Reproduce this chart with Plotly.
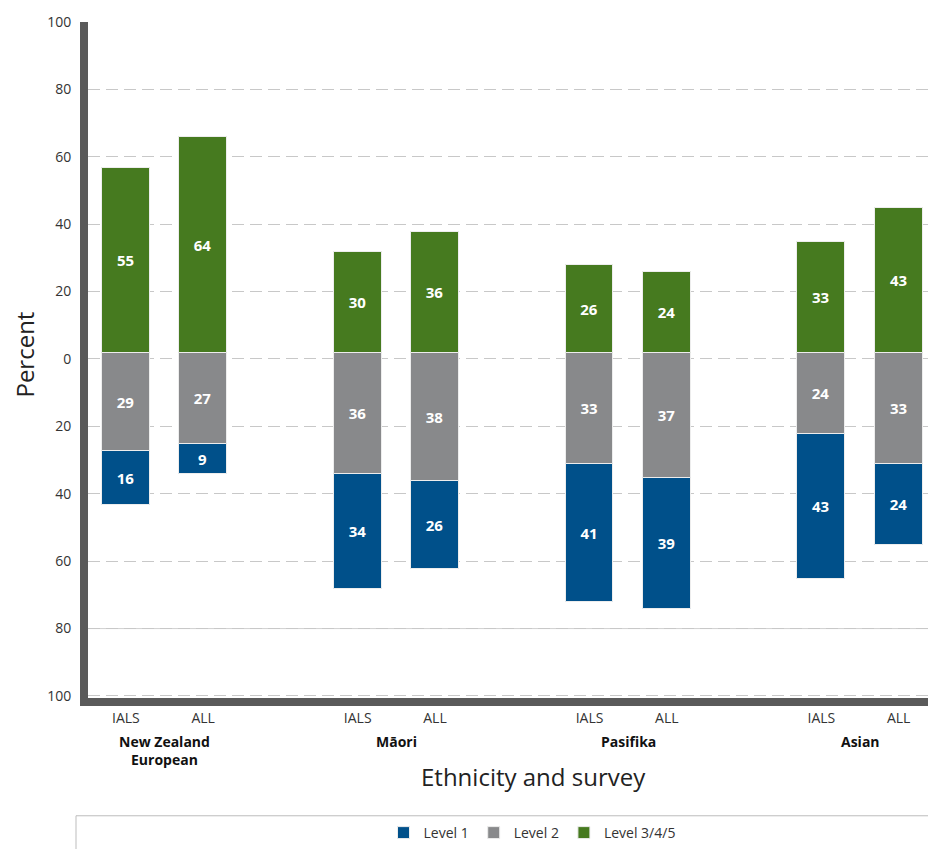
import plotly.graph_objects as go

# ---- data ----
groups = ["New Zealand<br>European", "Māori", "Pasifika", "Asian"]
surveys = ["IALS", "ALL"]
bar_labels = ["IALS", "ALL", "IALS", "ALL", "IALS", "ALL", "IALS", "ALL"]
level1 = [16, 9, 34, 26, 41, 39, 43, 24]
level2 = [29, 27, 36, 38, 33, 37, 24, 33]
level345 = [55, 64, 30, 36, 26, 24, 33, 43]
ytick_vals = [-100, -80, -60, -40, -20, 0, 20, 40, 60, 80, 100]
ytick_text = ["100", "80", "60", "40", "20", "0", "20", "40", "60", "80", "100"]

# ---- style ----
C_L1 = "#00508A"
C_L2 = "#88898B"
C_L3 = "#467A1F"
FONT = "Open Sans"
baseline = 1.8  # visual baseline of the bars in the original

# x positions: pairs per group with a gap between groups
xpos = []
for g in range(len(groups)):
    for s in range(len(surveys)):
        xpos.append(g * 3 + s)
group_centers = [g * 3 + 0.5 for g in range(len(groups))]

W, H = 928, 849
H_EFF = 844  # observed effective drawing height
L, R, T, B = 88, 0, 22, 139
pw, ph = W - L - R, H_EFF - T - B
PLOT_BOTTOM = H_EFF - B


def px_x(p):
    return (p - L) / pw


def px_y(p):
    return (PLOT_BOTTOM - p) / ph


fig = go.Figure()
common = dict(width=0.62, textposition="inside", insidetextanchor="middle",
              textfont=dict(color="white", family=FONT, size=15, weight="bold"),
              marker_line=dict(color="#EDEDED", width=1), cliponaxis=False)

fig.add_trace(go.Bar(name="Level 1", x=xpos, y=[-v for v in level1],
                     base=[baseline - v for v in level2], text=level1,
                     marker_color=C_L1, **common))
fig.add_trace(go.Bar(name="Level 2", x=xpos, y=[-v for v in level2],
                     base=[baseline] * len(level2), text=level2,
                     marker_color=C_L2, **common))
fig.add_trace(go.Bar(name="Level 3/4/5", x=xpos, y=level345,
                     base=[baseline] * len(level345), text=level345,
                     marker_color=C_L3, **common))

annotations = []
for gx, gname in zip(group_centers, groups):
    annotations.append(dict(x=gx, y=px_y(737), xref="x", yref="paper",
                            text="<b>" + gname + "</b>", showarrow=False,
                            yanchor="top", xanchor="center",
                            font=dict(family=FONT, size=14, color="#111111")))
annotations.append(dict(x=px_x(533), y=px_y(784), xref="paper", yref="paper",
                        text="Ethnicity and survey", showarrow=False,
                        xanchor="center", yanchor="middle",
                        font=dict(family=FONT, size=24, color="#222222")))
annotations.append(dict(x=px_x(25), y=px_y(358), xref="paper", yref="paper",
                        text="Percent", showarrow=False, textangle=-90,
                        xanchor="center", yanchor="middle",
                        font=dict(family=FONT, size=24, color="#222222")))

shapes = [
    dict(type="line", xref="paper", yref="y", x0=0, x1=1, y0=-80, y1=-80,
         line=dict(color="#D0D0D0", width=1), layer="below"),
    dict(type="rect", xref="paper", yref="paper", x0=px_x(76), x1=1.2,
         y0=px_y(824), y1=px_y(900), line=dict(color="#BDBDBD", width=1),
         fillcolor="rgba(0,0,0,0)"),
]

fig.update_layout(
    width=W, height=H,
    margin=dict(l=L, r=R, t=T, b=B),
    barmode="overlay",
    plot_bgcolor="white", paper_bgcolor="white",
    font=dict(family=FONT, size=14, color="#333333"),
    bargap=0,
    showlegend=True,
    legend=dict(orientation="h", x=px_x(532), xanchor="center",
                y=px_y(842), yanchor="middle", traceorder="normal",
                font=dict(family=FONT, size=14, color="#333333"),
                itemwidth=30, bgcolor="rgba(0,0,0,0)"),
    annotations=annotations,
    shapes=shapes,
)
fig.update_xaxes(range=[-0.49, 10.38], tickvals=xpos, ticktext=bar_labels,
                 showgrid=False, zeroline=False, showline=True,
                 linecolor="#5A5A5A", linewidth=8, ticks="",
                 tickfont=dict(family=FONT, size=14, color="#333333"),
                 automargin=False, fixedrange=True)
fig.update_yaxes(range=[-100.6, 100], tickvals=ytick_vals, ticktext=ytick_text,
                 showgrid=True, gridcolor="#C8C8C8", gridwidth=1,
                 griddash="12px,6px", zeroline=False, showline=True,
                 linecolor="#5A5A5A", linewidth=8, ticks="",
                 ticklabelstandoff=6,
                 tickfont=dict(family=FONT, size=14, color="#333333"),
                 automargin=False, fixedrange=True)

fig.write_html(
    "out.html",
    config={"displayModeBar": False},
    post_script="document.body.style.margin='0';document.body.style.overflow='hidden';",
)
